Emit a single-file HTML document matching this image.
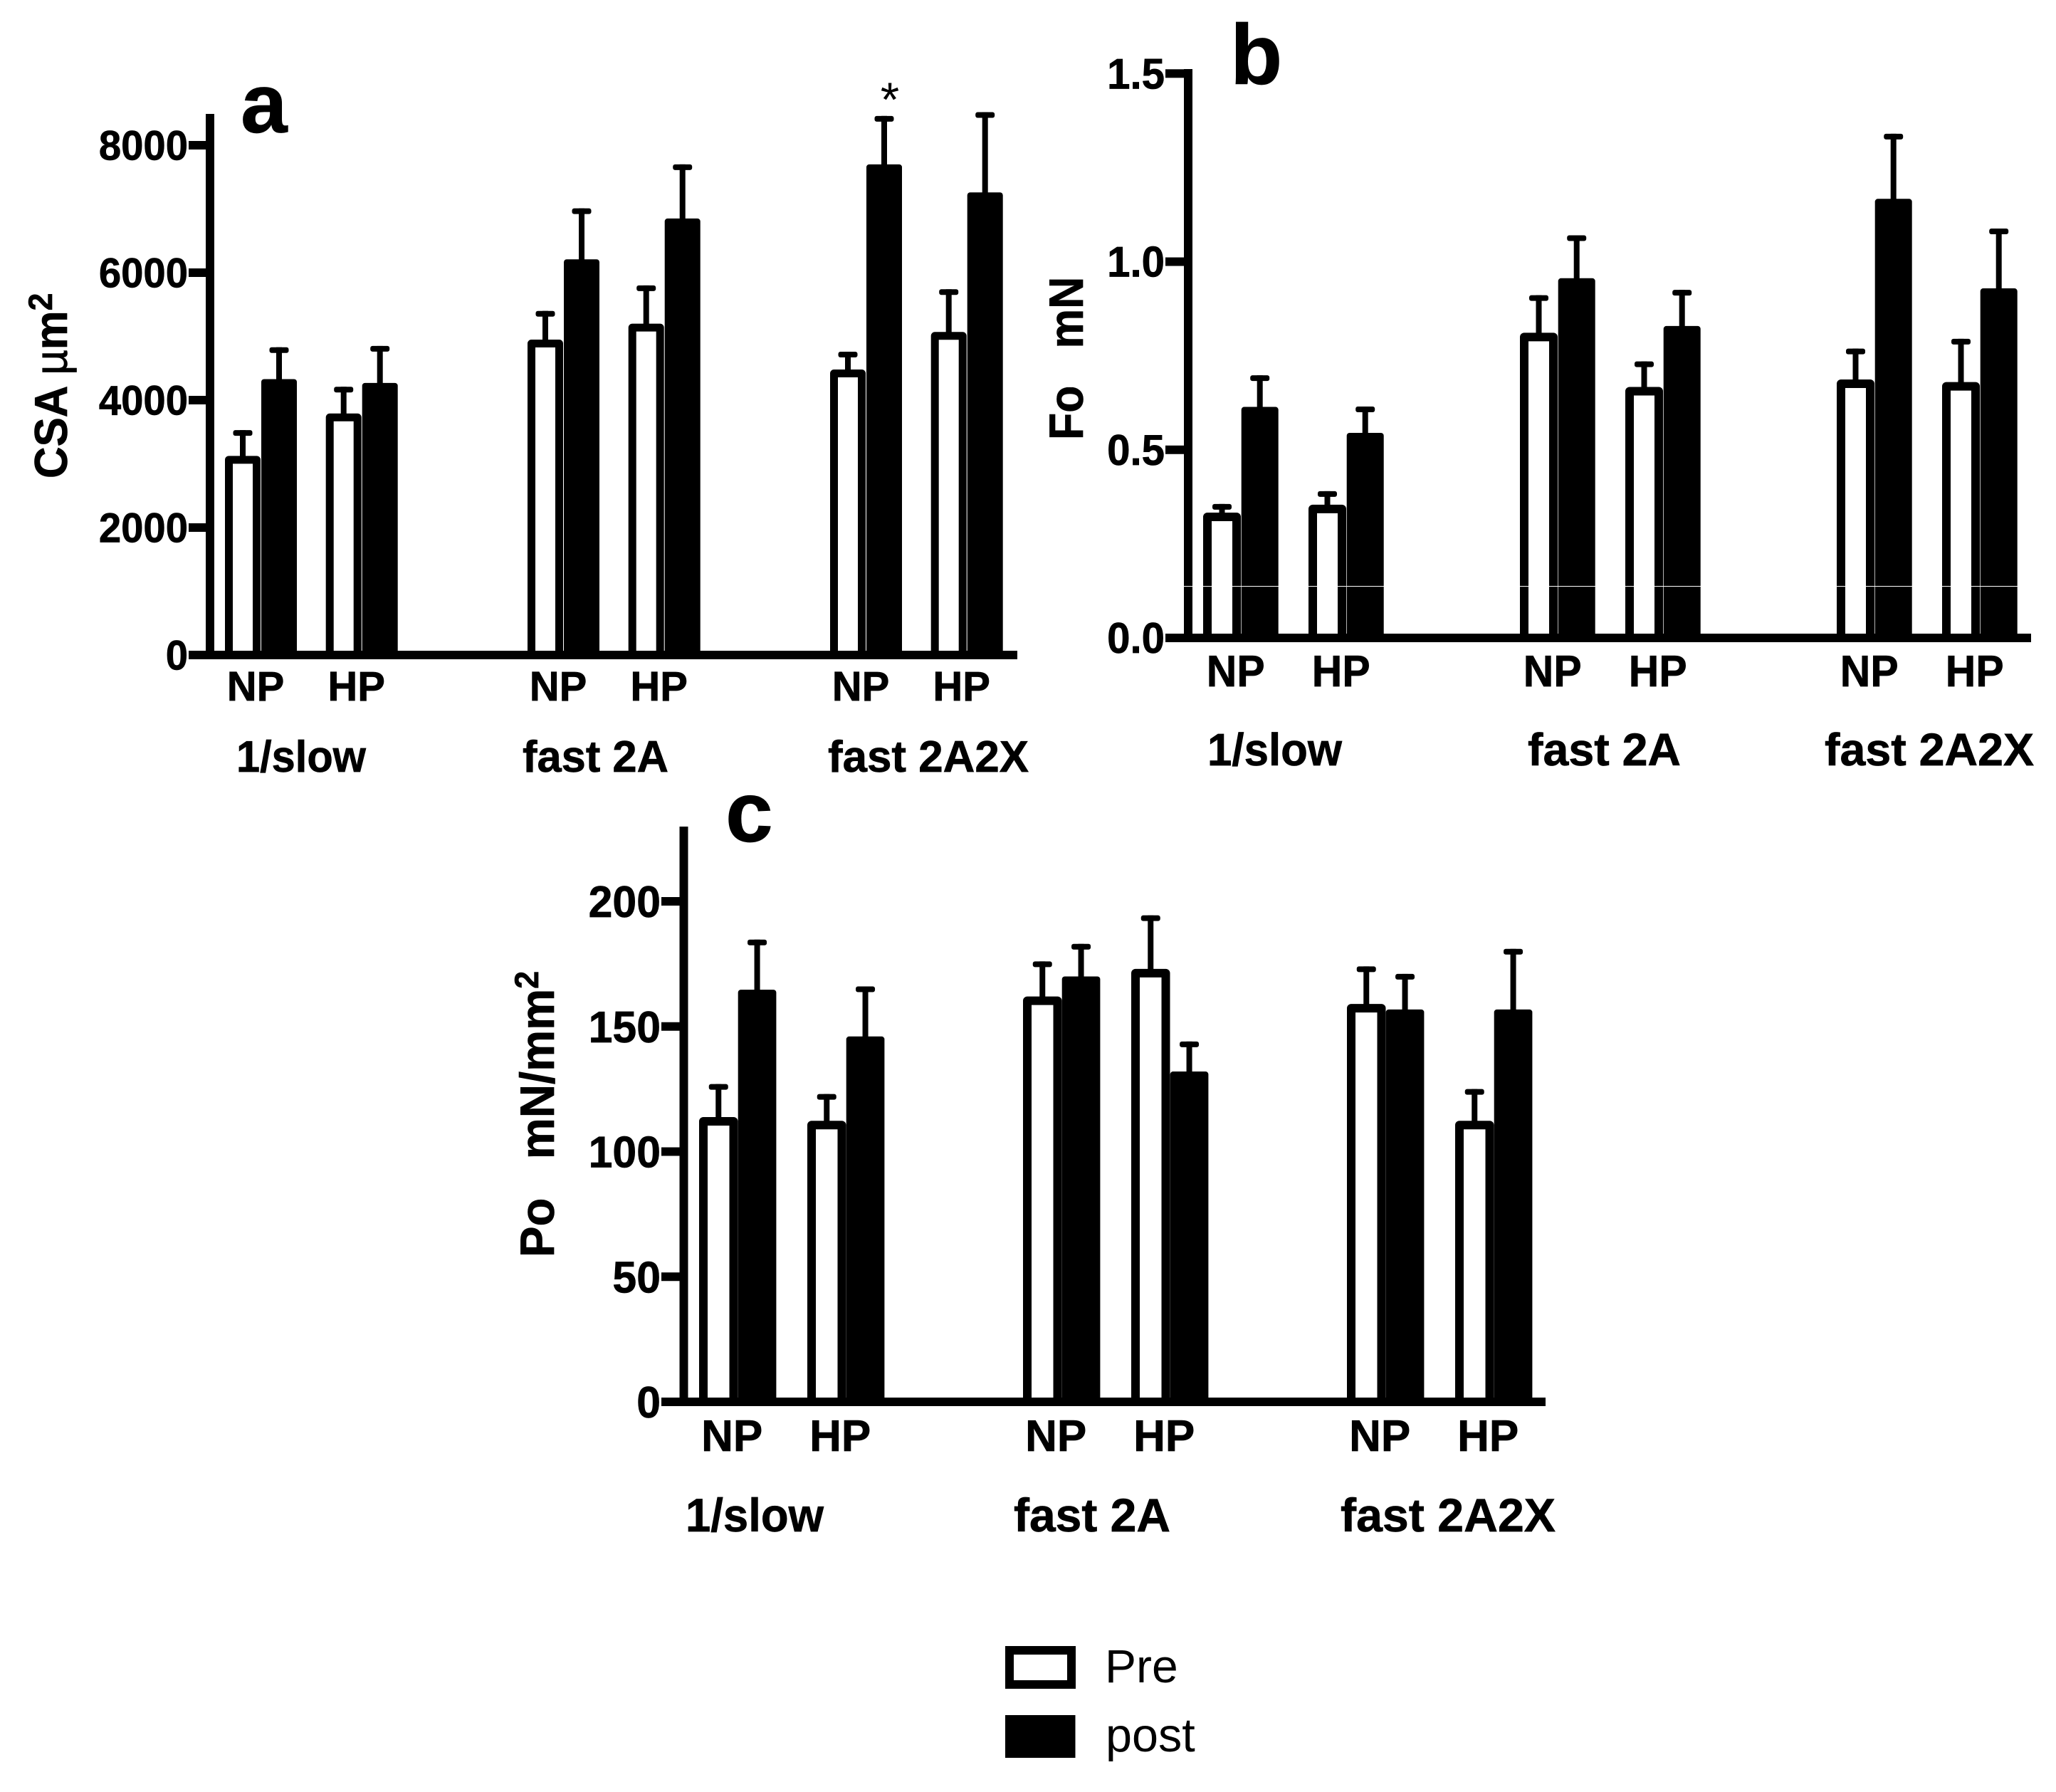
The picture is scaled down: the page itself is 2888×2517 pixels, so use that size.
<!DOCTYPE html>
<html lang="en">
<head>
<meta charset="utf-8">
<title>Fibre CSA, Fo and Po by type</title>
<style>
html,body{margin:0;padding:0;background:#fff;}
svg{display:block;}
text{font-family:"Liberation Sans",sans-serif;fill:#000;white-space:pre;}
.b{font-weight:bold;stroke:#000;stroke-width:0.7px;}
</style>
</head>
<body>
<svg id="chart" xmlns="http://www.w3.org/2000/svg" width="2888" height="2517" viewBox="0 0 2888 2517">
<rect width="2888" height="2517" fill="#fff"/>

<g id="panel-a">
  <text class="b" x="338" y="186" font-size="118">a</text>
  <text class="b" transform="translate(94,672) rotate(-90) scale(0.95,1)" font-size="65">CSA <tspan font-weight="normal">µ</tspan>m<tspan font-size="47" dy="-21">2</tspan></text>
  <text class="b" x="332" y="1084" font-size="62" textLength="182" lengthAdjust="spacingAndGlyphs">1/slow</text>
  <text class="b" x="734" y="1084" font-size="62" textLength="205" lengthAdjust="spacingAndGlyphs">fast 2A</text>
  <text class="b" x="1163" y="1084" font-size="62" textLength="282" lengthAdjust="spacingAndGlyphs">fast 2A2X</text>
  <text x="1250" y="163" font-size="68" text-anchor="middle">*</text>
</g>

<g id="panel-b">
  <text class="b" x="1728" y="118" font-size="120">b</text>
  <text class="b" transform="translate(1521,618) rotate(-90) scale(0.92,1)" font-size="68">Fo   mN</text>
  <text class="b" x="1696" y="1075" font-size="64" textLength="189" lengthAdjust="spacingAndGlyphs">1/slow</text>
  <text class="b" x="2146" y="1075" font-size="64" textLength="215" lengthAdjust="spacingAndGlyphs">fast 2A</text>
  <text class="b" x="2563" y="1075" font-size="64" textLength="294" lengthAdjust="spacingAndGlyphs">fast 2A2X</text>
</g>

<g id="panel-c">
  <text class="b" x="1019" y="1182" font-size="120">c</text>
  <text class="b" transform="translate(778,1766) rotate(-90) scale(0.96,1)" font-size="68">Po   mN/mm<tspan font-size="47" dy="-22">2</tspan></text>
  <text class="b" x="963" y="2151" font-size="66" textLength="194" lengthAdjust="spacingAndGlyphs">1/slow</text>
  <text class="b" x="1424" y="2151" font-size="66" textLength="220" lengthAdjust="spacingAndGlyphs">fast 2A</text>
  <text class="b" x="1883" y="2151" font-size="66" textLength="302" lengthAdjust="spacingAndGlyphs">fast 2A2X</text>
</g>

<g id="legend">
  <g>
    <rect x="1418" y="2318" width="87" height="48" fill="#fff" stroke="#000" stroke-width="12"/>
    <text x="1552" y="2363" font-size="66">Pre</text>
  </g>
  <g>
    <rect x="1412" y="2409" width="98.5" height="60" fill="#000"/>
    <text x="1553" y="2460" font-size="66.5">post</text>
  </g>
</g>
</svg>

<script>
// Shared categories
const fibreGroups = ['1/slow', 'fast 2A', 'fast 2A2X'];
const subGroups = ['NP', 'HP'];

// Panel a: CSA (um^2)
const csaTicks = [0, 2000, 4000, 6000, 8000];
const csaPre = [3125, 3790, 4950, 5200, 4480, 5070];
const csaPost = [4330, 4270, 6210, 6850, 7700, 7260];
const csaPreErr = [404, 420, 450, 600, 280, 670];
const csaPostErr = [500, 580, 800, 850, 760, 1260];

// Panel b: Fo (mN)
const foTicks = ['0.0', '0.5', '1.0', '1.5'];
const foPre = [0.333, 0.354, 0.811, 0.667, 0.687, 0.680];
const foPost = [0.614, 0.545, 0.956, 0.829, 1.167, 0.929];
const foPreErr = [0.023, 0.036, 0.100, 0.068, 0.082, 0.115];
const foPostErr = [0.084, 0.070, 0.114, 0.096, 0.173, 0.159];

// Panel c: Po (mN/mm^2)
const poTicks = [0, 50, 100, 150, 200];
const poPre = [113.8, 112.3, 162, 173, 159, 112.3];
const poPost = [164.7, 146, 170, 132, 156.8, 156.8];
const poPreErr = [13.2, 10.7, 14, 21.4, 15, 12.7];
const poPostErr = [20, 20, 13, 12, 14.2, 24.2];

const NS = 'http://www.w3.org/2000/svg';

function make(tag, parent, attrs) {
  const el = document.createElementNS(NS, tag);
  for (const k in attrs) el.setAttribute(k, attrs[k]);
  parent.appendChild(el);
  return el;
}

function drawPanel(root, key, layout, ticks, pre, post, preErr, postErr) {
  const yScale = v => layout.y0 - (v / layout.yMaxValue) * (layout.y0 - layout.yMaxPixel);
  const xBar = (g, s) => layout.x0 + g * layout.groupPitch + s * layout.subPitch;

  fibreGroups.forEach((group, g) => {
    subGroups.forEach((sub, s) => {
      const i = g * subGroups.length + s;
      const left = xBar(g, s);
      const sw = layout.barStroke;
      const preW = layout.preW;
      const postX = left + layout.barW;
      const postW = layout.postW;

      // Pre bar (outlined)
      const preTop = yScale(pre[i]);
      const preBar = make('rect', root, {
        x: left + sw / 2, y: preTop + sw / 2,
        width: preW - sw, height: layout.y0 - preTop - sw / 2,
        fill: '#fff', stroke: '#000', 'stroke-width': sw, 'stroke-linejoin': 'round'
      });
      
      

      // Post bar (solid)
      const postTop = yScale(post[i]);
      const postBar = make('rect', root, {
        x: postX, y: postTop, width: postW, height: layout.y0 - postTop, fill: '#000', rx: 4
      });
      
      

      // Error bars
      [[left + preW / 2, pre[i], preErr[i], 'pre'], [postX + postW / 2, post[i], postErr[i], 'post']].forEach(e => {
        const top = yScale(e[1] + e[2]);
        const stem = make('rect', root, {
          x: e[0] - 4, y: top, width: 8, height: yScale(e[1]) - top + 2, fill: '#000'
        });
        
        
        const cap = make('rect', root, {
          x: e[0] - 13.5, y: top, width: 27, height: 8, rx: 3, fill: '#000'
        });
        
        
      });

      // NP / HP label
      const lab = make('text', root, {
        class: 'b', 'font-size': layout.subFont, 'text-anchor': 'middle',
        transform: 'translate(' + (left + layout.barW + layout.subOffset) + ',' + layout.subBaseline + ') scale(' + layout.subScale + ',1)'
      });
      
      
      lab.textContent = sub;
    });
  });

  // Y axis line
  const yAxis = make('rect', root, {
    x: layout.axisX - 6, y: layout.axisTop, width: 12, height: layout.y0 - layout.axisTop, fill: '#000'
  });
  
  

  // X axis line
  const xAxis = make('rect', root, {
    x: layout.tickLeft, y: layout.y0 - 6,
    width: layout.xEnd - layout.tickLeft, height: 12, fill: '#000'
  });
  
  

  // Ticks and tick labels
  ticks.forEach(t => {
    const y = yScale(parseFloat(t));
    const tick = make('rect', root, {
      x: layout.tickLeft, y: y - 6, width: layout.axisX - layout.tickLeft, height: 12, fill: '#000'
    });
    
    
    const label = make('text', root, {
      class: 'b', 'font-size': layout.tickFont, 'text-anchor': 'end',
      transform: 'translate(' + layout.labelRight + ',' + (y + layout.tickDrop) + ') scale(' + layout.tickScale + ',1)'
    });
    
    
    label.textContent = t;
  });
}

drawPanel(document.getElementById('panel-a'), 'a', {
  x0: 316, barW: 51, preW: 50, postW: 50, subPitch: 141.7, groupPitch: 425, barStroke: 11,
  y0: 920, yMaxValue: 8000, yMaxPixel: 204, axisX: 295, axisTop: 160,
  tickLeft: 265, xEnd: 1429, labelRight: 264, tickDrop: 20.5,
  tickFont: 58, tickScale: 0.97, subFont: 58, subScale: 1, subBaseline: 984, subOffset: -8
}, csaTicks, csaPre, csaPost, csaPreErr, csaPostErr);

drawPanel(document.getElementById('panel-b'), 'b', {
  x0: 1690, barW: 53.7, preW: 53, postW: 52, subPitch: 148, groupPitch: 445, barStroke: 12,
  y0: 896, yMaxValue: 1.5, yMaxPixel: 103.3, axisX: 1669, axisTop: 97,
  tickLeft: 1637, xEnd: 2853, labelRight: 1636, tickDrop: 21,
  tickFont: 60, tickScale: 0.97, subFont: 62, subScale: 0.95, subBaseline: 964, subOffset: -8
}, foTicks, foPre, foPost, foPreErr, foPostErr);

drawPanel(document.getElementById('panel-c'), 'c', {
  x0: 982, barW: 54.7, preW: 54.5, postW: 53.7, subPitch: 152, groupPitch: 455, barStroke: 12,
  y0: 1969, yMaxValue: 200, yMaxPixel: 1266, axisX: 960.5, axisTop: 1161,
  tickLeft: 929, xEnd: 2171, labelRight: 928, tickDrop: 22,
  tickFont: 62, tickScale: 0.98, subFont: 62, subScale: 1, subBaseline: 2038, subOffset: -8.5
}, poTicks, poPre, poPost, poPreErr, poPostErr);

// Scan artefact: white hairline cutting through panel b's bars
const hairline = make('rect', document.getElementById('panel-b'), {
  x: 1663, y: 823, width: 1175, height: 1, fill: '#fff'
});


</script>
</body>
</html>
